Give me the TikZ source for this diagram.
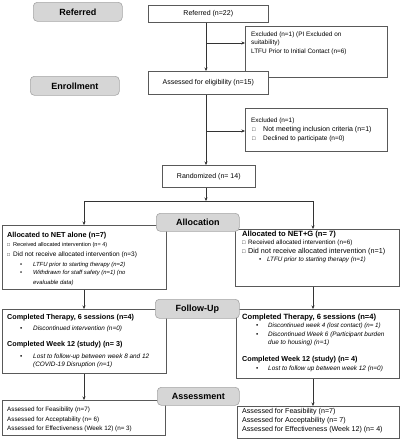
\documentclass[tikz,border=0pt]{standalone}
\usepackage{fontspec}
\setmainfont{Liberation Sans}
\usetikzlibrary{arrows.meta}
\newcommand\fsz[1]{\fontsize{#1}{#1}\selectfont}
\begin{document}
\begin{tikzpicture}[x=1pt,y=-1pt,
  box/.style={draw=black!65, line width=0.6pt, fill=white, inner sep=0pt, anchor=north west},
  hdr/.style={draw=black!35, fill=black!16, rounded corners=4pt, line width=0.6pt, inner sep=0pt, anchor=north west, font=\fsz{9}\bfseries},
  txt/.style={anchor=base west, inner sep=0pt},
  arr/.style={-{Stealth[length=3.5pt,width=3pt]}, draw=black!80, line width=0.6pt},
  ln/.style={draw=black!80, line width=0.6pt}]
\useasboundingbox (0,0) rectangle (401,440);

% ---------- boxes ----------
\node[box, minimum width=120pt, minimum height=17pt, font=\fsz{7}] (ref) at (148,5) {Referred (n=22)};
\node[box, minimum width=142pt, minimum height=51pt] (exc1) at (245,26) {};
\node[box, minimum width=120pt, minimum height=23pt, font=\fsz{7}] (elig) at (148,71) {Assessed for eligibility (n=15)};
\node[box, minimum width=142pt, minimum height=43pt] (exc2) at (245,108) {};
\node[box, minimum width=93pt, minimum height=22pt, font=\fsz{7}] (rand) at (162,165) {Randomized (n= 14)};
\node[box, minimum width=164pt, minimum height=64pt] (netA) at (2,225) {};
\node[box, minimum width=164pt, minimum height=57pt] (netG) at (235,229) {};
\node[box, minimum width=164pt, minimum height=64pt] (fuA) at (2,309) {};
\node[box, minimum width=163pt, minimum height=69pt] (fuG) at (236,309) {};
\node[box, minimum width=163pt, minimum height=35pt] (asA) at (2,400) {};
\node[box, minimum width=162pt, minimum height=32pt] (asG) at (237,406) {};

% ---------- headers ----------
\node[hdr, minimum width=89pt, minimum height=19pt] (hRef) at (33,2) {Referred};
\node[hdr, minimum width=89pt, minimum height=19pt] (hEnr) at (30,76) {Enrollment};
\node[hdr, minimum width=83pt, minimum height=18pt] (hAll) at (156,213) {Allocation};
\node[hdr, minimum width=84pt, minimum height=19pt] (hFU) at (155,299) {Follow-Up};
\node[hdr, minimum width=82pt, minimum height=18pt] (hAss) at (157,387) {Assessment};

% ---------- texts: exclusions ----------
\node[txt, font=\fsz{6.4}] (e1a) at (251,36.3) {Excluded (n=1) (PI Excluded on};
\node[txt, font=\fsz{6.4}] (e1b) at (251,44.3) {suitability)};
\node[txt, font=\fsz{6.4}] (e1c) at (251,53.3) {LTFU Prior to Initial Contact (n=6)};
\node[txt, font=\fsz{6.4}] (e2a) at (251,122.3) {Excluded (n=1)};
\node[txt, font=\fsz{5.5}] (e2bs) at (252,131.3) {□};
\node[txt, font=\fsz{7}] (e2b) at (263,131.4) {Not meeting inclusion criteria (n=1)};
\node[txt, font=\fsz{5.5}] (e2cs) at (252,140.3) {□};
\node[txt, font=\fsz{6.5}] (e2c) at (263,140.3) {Declined to participate (n=0)};

% ---------- texts: NET alone ----------
\node[txt, font=\fsz{7.3}\bfseries] (a1) at (7,237.6) {Allocated to NET alone (n=7)};
\node[txt, font=\fsz{5}] (a2s) at (7,246) {□};
\node[txt, font=\fsz{5.6}] (a2) at (13,246) {Received allocated intervention (n= 4)};
\node[txt, font=\fsz{5}] (a3s) at (7,256) {□};
\node[txt, font=\fsz{6.5}] (a3) at (13,256.3) {Did not receive allocated intervention (n=3)};
\node[txt, font=\fsz{5.9}] (a4s) at (20,266) {•};
\node[txt, font=\fsz{5.9}\itshape] (a4) at (33,266) {LTFU prior to starting therapy (n=2)};
\node[txt, font=\fsz{5.9}] (a5s) at (20,274) {•};
\node[txt, font=\fsz{5.9}\itshape] (a5) at (33,274) {Withdrawn for staff safety (n=1) (no};
\node[txt, font=\fsz{5.9}\itshape] (a6) at (33,284) {evaluable data)};

% ---------- texts: NET+G ----------
\node[txt, font=\fsz{7.6}\bfseries] (g1) at (242,236.7) {Allocated to NET+G (n= 7)};
\node[txt, font=\fsz{5.5}] (g2s) at (242,244.3) {□};
\node[txt, font=\fsz{6.3}] (g2) at (248,244.3) {Received allocated intervention (n=6)};
\node[txt, font=\fsz{5.5}] (g3s) at (242,253.3) {□};
\node[txt, font=\fsz{7.2}] (g3) at (248,253.6) {Did not receive allocated intervention (n=1)};
\node[txt, font=\fsz{6.3}] (g4s) at (259,261.8) {•};
\node[txt, font=\fsz{6.3}\itshape] (g4) at (267,261.8) {LTFU prior to starting therapy (n=1)};

% ---------- texts: follow-up left ----------
\node[txt, font=\fsz{7.2}\bfseries] (f1) at (7,319.6) {Completed Therapy, 6 sessions (n=4)};
\node[txt, font=\fsz{6.4}] (f2s) at (20,330.3) {•};
\node[txt, font=\fsz{6.4}\itshape] (f2) at (33,330.3) {Discontinued intervention (n=0)};
\node[txt, font=\fsz{7.2}\bfseries] (f3) at (7,346.6) {Completed Week 12 (study) (n= 3)};
\node[txt, font=\fsz{6.4}] (f4s) at (20,358.3) {•};
\node[txt, font=\fsz{6.4}\itshape] (f4) at (33,358.3) {Lost to follow-up between week 8 and 12};
\node[txt, font=\fsz{6.4}\itshape] (f5) at (33,366.3) {(COVID-19 Disruption (n=1)};

% ---------- texts: follow-up right ----------
\node[txt, font=\fsz{7.6}\bfseries] (r1) at (242,319.7) {Completed Therapy, 6 sessions (n=4)};
\node[txt, font=\fsz{6.4}] (r2s) at (256,327.6) {•};
\node[txt, font=\fsz{6.2}\itshape] (r2) at (268,327.6) {Discontinued week 4 (lost contact) (n= 1)};
\node[txt, font=\fsz{6.4}] (r3s) at (256,336.3) {•};
\node[txt, font=\fsz{6.4}\itshape] (r3) at (268,336.3) {Discontinued Week 6 (Participant burden};
\node[txt, font=\fsz{6.4}\itshape] (r4) at (268,344.3) {due to housing) (n=1)};
\node[txt, font=\fsz{7.2}\bfseries] (r5) at (242,361.6) {Completed Week 12 (study) (n= 4)};
\node[txt, font=\fsz{6.4}] (r6s) at (256,370.3) {•};
\node[txt, font=\fsz{6.4}\itshape] (r6) at (268,370.3) {Lost to follow up between week 12 (n=0)};

% ---------- texts: assessment ----------
\node[txt, font=\fsz{6.3}] (s1) at (7,411.3) {Assessed for Feasibility (n=7)};
\node[txt, font=\fsz{6.3}] (s2) at (7,421.3) {Assessed for Acceptability (n= 6)};
\node[txt, font=\fsz{6.3}] (s3) at (7,430.3) {Assessed for Effectiveness (Week 12) (n= 3)};
\node[txt, font=\fsz{7.1}] (u1) at (242,413.5) {Assessed for Feasibility (n=7)};
\node[txt, font=\fsz{7.1}] (u2) at (242,422.5) {Assessed for Acceptability (n= 7)};
\node[txt, font=\fsz{7.1}] (u3) at (242,431.5) {Assessed for Effectiveness (Week 12) (n= 4)};

% ---------- connectors ----------
\coordinate (b1) at (206,43);
\coordinate (b2) at (206,131);
\coordinate (sp) at (206,201);
\coordinate (spl) at (84,201);
\coordinate (spr) at (313,201);
\draw[arr] (ref.south -| b1) -- (elig.north -| b1);
\draw[arr] (b1) -- (b1 -| exc1.west);
\draw[arr] (elig.south -| b2) -- (rand.north -| b2);
\draw[arr] (b2) -- (b2 -| exc2.west);
\draw[arr] (rand.south -| sp) -- (sp);
\draw[ln] (spl) -- (spr);
\draw[arr] (spl) -- (spl |- netA.north);
\draw[arr] (spr) -- (spr |- netG.north);
\draw[arr] (netA.south -| spl) -- (fuA.north -| spl);
\draw[arr] (netG.south -| spr) -- (fuG.north -| spr);
\draw[arr] (fuA.south -| spl) -- (asA.north -| spl);
\draw[arr] (fuG.south -| spr) -- (asG.north -| spr);
\end{tikzpicture}
\end{document}
